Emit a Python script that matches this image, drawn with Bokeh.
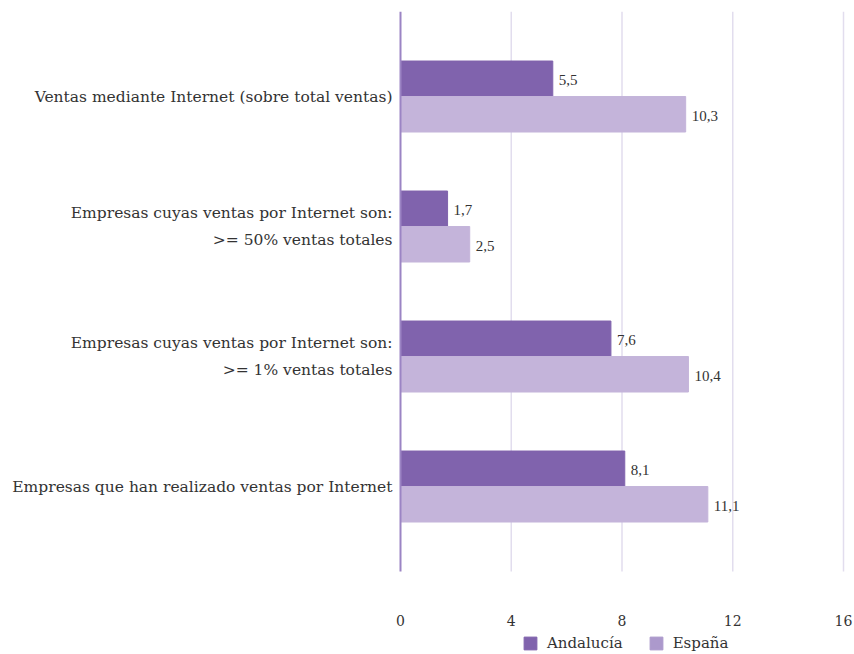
from bokeh.plotting import figure
from bokeh.core.properties import value
from bokeh.models import (ColumnDataSource, Range1d, FixedTicker, LabelSet, Legend, LegendItem)
from bokeh.embed import file_html
from bokeh.resources import INLINE

categories = [
    "Ventas mediante Internet (sobre total ventas)",
    "Empresas cuyas ventas por Internet son:\n>= 50% ventas totales",
    "Empresas cuyas ventas por Internet son:\n>= 1% ventas totales",
    "Empresas que han realizado ventas por Internet",
]
andalucia = [5.5, 1.7, 7.6, 8.1]
espana = [10.3, 2.5, 10.4, 11.1]
x_ticks = [0, 4, 8, 12, 16]
x_tick_labels = ["0", "4", "8", "12", "16"]
series_names = ["Andalucía", "España"]

FONT = "DejaVu Serif"
DARK = "#8063AD"
LIGHT = "#C4B4DA"
LIGHT_LEG = "#AC99CC"
GRID = "#E2DDEE"
AXIS = "#9B84C4"
TXT = "#333333"

n = len(categories)
pos = [n - 1 - i for i in range(n)]  # top category first
bh = 0.273
pad = 0.654
y_lo, y_hi = -pad, n - 1 + pad          # plotting area of the bars
x_max = max(x_ticks)
px_per = 443 / x_max                     # pixels per x unit

src_a = ColumnDataSource(dict(y=[p_ + bh / 2 for p_ in pos], v=andalucia,
                              lbl=[f"{v:.1f}".replace(".", ",") for v in andalucia]))
src_e = ColumnDataSource(dict(y=[p_ - bh / 2 for p_ in pos], v=espana,
                              lbl=[f"{v:.1f}".replace(".", ",") for v in espana]))

# frame: x 394..854, y 11..654 ; 130 px per category
p = figure(width=854, height=654, output_backend="svg", toolbar_location=None,
           x_range=Range1d(-6 / px_per, 454 / px_per), y_range=Range1d(y_hi - 643 / 130, y_hi),
           min_border_left=394, min_border_right=0, min_border_top=11, min_border_bottom=0)
p.outline_line_color = None
p.background_fill_color = "white"
p.xaxis.visible = False
p.grid.visible = False

# vertical grid lines
p.segment(x0=x_ticks[1:], x1=x_ticks[1:], y0=y_lo, y1=y_hi, line_color=GRID, line_width=1.5)

p.hbar(y="y", right="v", left=0, height=bh, source=src_a, color=DARK)
p.hbar(y="y", right="v", left=0, height=bh, source=src_e, color=LIGHT)

# value axis line at 0
p.segment(x0=[0], x1=[0], y0=[y_lo], y1=[y_hi], line_color=AXIS, line_width=2)

for src in (src_a, src_e):
    p.add_layout(LabelSet(x="v", y="y", text="lbl", source=src, x_offset=6, y_offset=-1.5,
                          text_baseline="middle", text_font=FONT, text_font_size="15px",
                          text_color=TXT))

# x tick labels
p.text(x=x_ticks, y=[y_lo - 49 / 130] * len(x_ticks), text=x_tick_labels,
       text_align="center", text_baseline="middle", text_font=value(FONT),
       text_font_size="14px", text_color=TXT)

# category axis
p.yaxis.ticker = FixedTicker(ticks=pos)
p.yaxis.major_label_overrides = {pos[i]: categories[i] for i in range(n)}
p.yaxis.axis_line_color = None
p.yaxis.major_tick_line_color = None
p.yaxis.minor_tick_line_color = None
p.yaxis.major_tick_out = 0
p.yaxis.minor_tick_out = 0
p.yaxis.major_label_standoff = 2
p.yaxis.major_label_text_font = FONT
p.yaxis.major_label_text_font_size = "15.5px"
p.yaxis.major_label_text_color = TXT
p.yaxis.major_label_text_line_height = 1.45

# legend
nan = float("nan")
r1 = p.quad(left=[nan], right=[nan], top=[nan], bottom=[nan], color=DARK)
r2 = p.quad(left=[nan], right=[nan], top=[nan], bottom=[nan], color=LIGHT_LEG)
legend = Legend(items=[LegendItem(label=series_names[0], renderers=[r1]),
                       LegendItem(label=series_names[1], renderers=[r2])],
                orientation="horizontal", location=(128, 2),
                label_text_font=FONT, label_text_font_size="15px", label_text_color=TXT,
                glyph_width=16, glyph_height=16, spacing=25, padding=0, margin=0,
                label_standoff=9, label_height=16,
                border_line_color=None, background_fill_alpha=0)
p.add_layout(legend, "center")

open("out.html", "w").write(file_html(p, INLINE))
